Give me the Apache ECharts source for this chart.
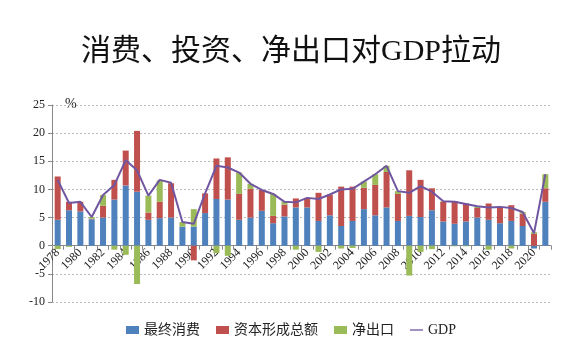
<!DOCTYPE html>
<html>
<head>
<meta charset="utf-8">
<script src="https://cdn.jsdelivr.net/npm/echarts@6/dist/echarts.min.js"></script>
<style>html,body{margin:0;padding:0;background:#fff;}#c{width:582px;height:355px;}</style>
</head>
<body>
<div id="c"></div>
<script>
var years = ['1978','1979','1980','1981','1982','1983','1984','1985','1986','1987','1988','1989','1990','1991','1992','1993','1994','1995','1996','1997','1998','1999','2000','2001','2002','2003','2004','2005','2006','2007','2008','2009','2010','2011','2012','2013','2014','2015','2016','2017','2018','2019','2020','2021'];
var consumption = [4.6,6.3,6.1,4.7,5.0,8.2,10.7,9.6,4.6,4.9,5.0,3.4,3.4,5.8,8.3,8.2,4.6,5.0,6.2,4.0,5.2,6.8,6.8,4.4,5.4,3.5,4.4,6.5,5.4,6.8,4.4,5.3,5.1,6.3,4.3,3.9,4.3,5.0,4.6,4.0,4.4,3.5,-0.5,7.8];
var capital = [7.7,1.5,1.7,0.1,2.1,3.5,6.2,10.8,1.3,2.9,6.1,0,-2.6,3.5,7.2,7.5,4.6,5.1,3.7,1.3,2.1,1.6,1.7,5.0,3.6,7.0,6.1,3.8,5.4,6.3,4.8,8.1,6.6,3.9,3.5,4.0,3.2,1.7,2.9,2.7,2.8,2.2,2.1,2.4];
var netExport = [-0.6,-0.2,0,0.3,1.9,-0.7,-1.6,-6.8,3.0,3.8,0,0.8,3.1,0,-1.3,-1.8,3.8,0.9,0,3.9,0.5,-0.7,0,-1.1,0.1,-0.5,-0.4,1.1,1.9,1.1,0.5,-5.3,-1.1,-0.6,0.1,-0.1,-0.1,0.3,-0.7,0.2,-0.5,0.3,0.3,2.5];
var gdp = [11.7,7.6,7.8,5.1,9.0,10.8,15.2,13.4,8.9,11.7,11.2,4.2,3.9,9.3,14.2,13.9,13.0,11.0,9.9,9.2,7.8,7.7,8.5,8.3,9.1,10.0,10.1,11.4,12.7,14.2,9.7,9.4,10.6,9.6,7.9,7.8,7.4,7.0,6.8,6.9,6.7,6.0,2.2,12.7];
var yTicks = [-10,-5,0,5,10,15,20,25];
var seriesNames = ['最终消费','资本形成总额','净出口','GDP'];

var latin = "'Liberation Serif','Noto Sans CJK SC',serif";
var gridTop = 105, gridBottom = 53, chartH = 355;
var yMin = yTicks[0], yMax = yTicks[yTicks.length - 1];
var plotH = chartH - gridTop - gridBottom;
var zeroOffset = -plotH * (0 - yMin) / (yMax - yMin);

var chart = echarts.init(document.getElementById('c'), null, {renderer:'canvas'});
chart.setOption({
  animation: false,
  backgroundColor: '#fff',
  title: {
    text: '消费、投资、净出口对GDP拉动',
    left: 'center',
    top: 32,
    textStyle: {fontSize: 30, fontWeight: 'normal', color: '#111', fontFamily: latin}
  },
  graphic: [{
    type: 'text', left: 65, top: 97,
    style: {text: '%', fontSize: 14, fill: '#222', fontFamily: latin}
  }],
  legend: {
    top: 318,
    left: 'center',
    itemWidth: 13,
    itemHeight: 8,
    itemGap: 16,
    textStyle: {fontSize: 14, color: '#222', fontFamily: latin},
    data: [
      {name: seriesNames[0], icon: 'rect'},
      {name: seriesNames[1], icon: 'rect'},
      {name: seriesNames[2], icon: 'rect'},
      {name: seriesNames[3], icon: 'path://M0,0 L10,0 L10,1 L0,1 Z'}
    ]
  },
  grid: {left: 52, right: 31, top: gridTop, bottom: gridBottom},
  xAxis: {
    type: 'category',
    data: years,
    boundaryGap: true,
    position: 'bottom',
    offset: zeroOffset,
    axisLine: {onZero: false, lineStyle: {color: '#888'}},
    axisTick: {show: true, interval: 0, length: 4, lineStyle: {color: '#888'}},
    axisLabel: {interval: 1, rotate: 45, fontSize: 12, color: '#222', fontFamily: latin, margin: 5}
  },
  yAxis: {
    type: 'value',
    min: yMin,
    max: yMax,
    interval: 5,
    axisLine: {show: true, lineStyle: {color: '#888'}},
    axisTick: {show: true, length: 4, lineStyle: {color: '#888'}},
    axisLabel: {fontSize: 12, color: '#222', fontFamily: latin, margin: 7},
    splitLine: {show: true, lineStyle: {color: '#bbb', type: [2, 2]}}
  },
  series: [
    {name: seriesNames[0], type: 'bar', stack: 'a', data: consumption, barWidth: 6, itemStyle: {color: '#4F81BD'}},
    {name: seriesNames[1], type: 'bar', stack: 'a', data: capital, barWidth: 6, itemStyle: {color: '#C0504D'}},
    {name: seriesNames[2], type: 'bar', stack: 'a', data: netExport, barWidth: 6, itemStyle: {color: '#9BBB59'}},
    {name: seriesNames[3], type: 'line', data: gdp, symbol: 'none', lineStyle: {color: '#7056A0', width: 2}, itemStyle: {color: '#7056A0'}, z: 5}
  ]
});
</script>
</body>
</html>
